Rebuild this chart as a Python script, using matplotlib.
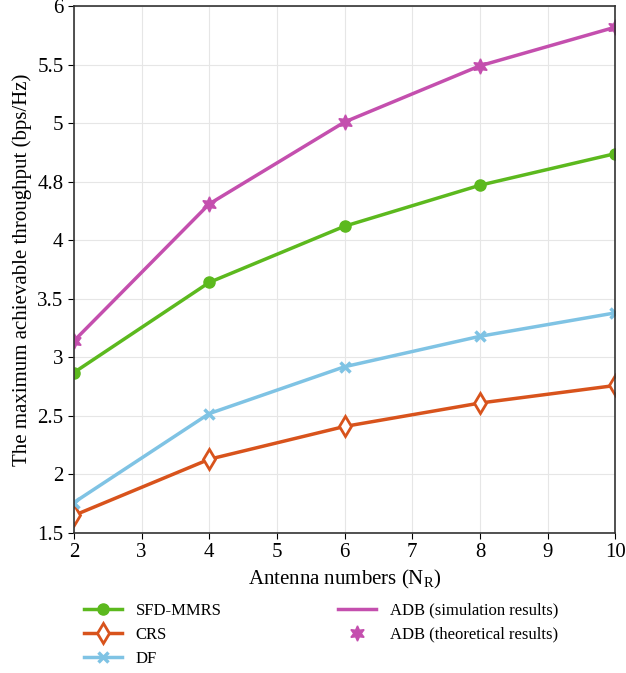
import matplotlib.pyplot as plt
from matplotlib.ticker import FixedLocator, FixedFormatter

plt.rcParams['font.family'] = ['Liberation Serif', 'DejaVu Serif']

# Данные
antennas = [2, 4, 6, 8, 10]
sfd_mmrs = [2.87, 3.64, 4.12, 4.47, 4.74]
crs = [1.65, 2.13, 2.41, 2.61, 2.76]
df = [1.76, 2.52, 2.92, 3.18, 3.38]
adb_sim = [3.14, 4.31, 5.01, 5.49, 5.82]
adb_theory = [3.14, 4.31, 5.01, 5.49, 5.82]

y_ticks = [1.5, 2, 2.5, 3, 3.5, 4, 4.5, 5, 5.5, 6]
y_labels = ["1.5", "2", "2.5", "3", "3.5", "4", "4.8", "5", "5.5", "6"]

fig = plt.figure(figsize=(6.26, 6.73), dpi=100)
ax = fig.add_axes([0.118, 0.208, 0.865, 0.783])

ax.plot(antennas, sfd_mmrs, color='#5cb91e', lw=2.5, marker='o', ms=8,
        label='SFD-MMRS')
ax.plot(antennas, crs, color='#d8531c', lw=2.5, marker='d', ms=10,
        mfc='white', mew=2, label='CRS')
ax.plot(antennas, df, color='#7fc3e4', lw=2.5, marker='x', ms=7, mew=2.5,
        label='DF')
ax.plot(antennas, adb_sim, color='#c44fae', lw=2.5,
        label='ADB (simulation results)')
ax.plot(antennas, adb_theory, ls='none', color='#c44fae', marker=(6, 1, 0),
        ms=11, label='ADB (theoretical results)')

ax.set_xlim(2, 10)
ax.set_ylim(1.5, 6)
ax.set_xticks(range(2, 11))
ax.yaxis.set_major_locator(FixedLocator(y_ticks))
ax.yaxis.set_major_formatter(FixedFormatter(y_labels))
ax.grid(True, color='#e6e6e6', lw=0.8)
ax.tick_params(labelsize=15, direction='out', length=4)
for s in ax.spines.values():
    s.set_color('#333333')
    s.set_linewidth(1.2)

ax.set_xlabel('Antenna numbers (N$_\\mathregular{R}$)', fontsize=15)
ax.set_ylabel('The maximum achievable throughput (bps/Hz)', fontsize=15)

fig.legend(loc='upper left', bbox_to_anchor=(0.11, 0.127), ncol=2,
           frameon=False, fontsize=12, columnspacing=7, handlelength=2.3,
           labelspacing=0.5)

plt.savefig('out.png', dpi=100)
